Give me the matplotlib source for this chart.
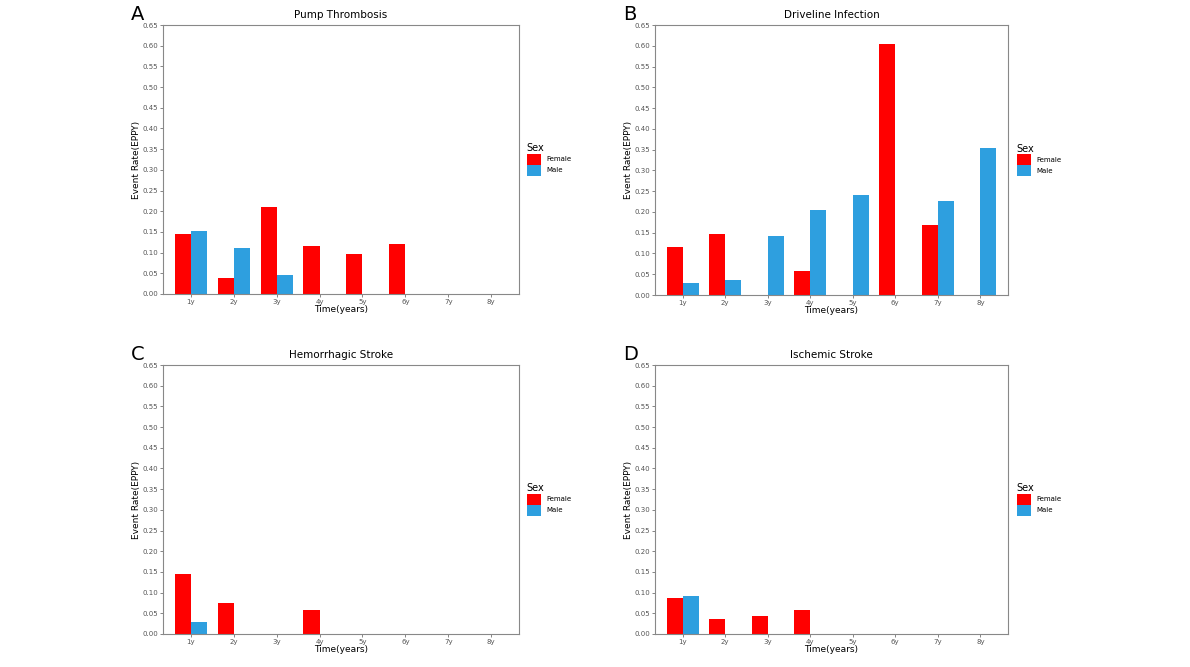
import matplotlib
matplotlib.use("Agg")
import matplotlib.pyplot as plt
import numpy as np

categories = ["1y", "2y", "3y", "4y", "5y", "6y", "7y", "8y"]
titles = ["Pump Thrombosis", "Driveline Infection", "Hemorrhagic Stroke", "Ischemic Stroke"]
letters = ["A", "B", "C", "D"]
female_A = [0.145, 0.038, 0.21, 0.117, 0.096, 0.122, 0, 0]
male_A = [0.152, 0.110, 0.047, 0, 0, 0, 0, 0]
female_B = [0.116, 0.148, 0, 0.058, 0, 0.605, 0.168, 0]
male_B = [0.030, 0.037, 0.142, 0.204, 0.241, 0, 0.226, 0.353]
female_C = [0.145, 0.075, 0, 0.058, 0, 0, 0, 0]
male_C = [0.030, 0, 0, 0, 0, 0, 0, 0]
female_D = [0.088, 0.037, 0.043, 0.058, 0, 0, 0, 0]
male_D = [0.091, 0, 0, 0, 0, 0, 0, 0]
females = [female_A, female_B, female_C, female_D]
males = [male_A, male_B, male_C, male_D]
yticks = np.round(np.arange(0, 0.651, 0.05), 2)

fig = plt.figure(figsize=(11.9, 6.67), dpi=100)
W, H = 1190, 667
boxes = [(163, 25, 519, 294), (655, 25, 1008, 295), (163, 365, 519, 634), (655, 365, 1008, 634)]
legx = [531, 1021]
red, blue = "#FF0000", "#2E9FDF"
for i in range(4):
    x0, y0, x1, y1 = boxes[i]
    ax = fig.add_axes([x0 / W, 1 - y1 / H, (x1 - x0) / W, (y1 - y0) / H])
    x = np.arange(len(categories))
    w = 0.375
    ax.bar(x - w / 2, females[i], w, color=red, label="Female")
    ax.bar(x + w / 2, males[i], w, color=blue, label="Male")
    ax.set_xlim(-0.65, 7.65)
    ax.set_ylim(0, 0.65)
    ax.set_yticks(yticks)
    ax.set_yticklabels([f"{v:.2f}" for v in yticks])
    ax.set_xticks(x)
    ax.set_xticklabels(categories)
    ax.tick_params(labelsize=5, colors="#555555", length=2, width=0.5, pad=1.5)
    for s in ax.spines.values():
        s.set_color("#888888"); s.set_linewidth(0.8)
    ax.set_title(titles[i], fontsize=7.5, pad=5)
    ax.set_xlabel("Time(years)", fontsize=6.5, labelpad=0)
    ax.set_ylabel("Event Rate(EPPY)", fontsize=6.5, labelpad=1)
    fig.text((x0 - 32) / W, 1 - (y0 - 10) / H, letters[i], fontsize=14, va="center")
    leg = ax.legend(title="Sex", loc="center left", bbox_to_anchor=((legx[i % 2] - x0) / (x1 - x0) - 0.02, 0.5),
                    frameon=False, fontsize=5, title_fontsize=7, handlelength=2.0, handleheight=2.0,
                    borderaxespad=0, labelspacing=0.05, handletextpad=0.8)
    leg._legend_box.align = "left"
fig.savefig("out.png", dpi=100)
